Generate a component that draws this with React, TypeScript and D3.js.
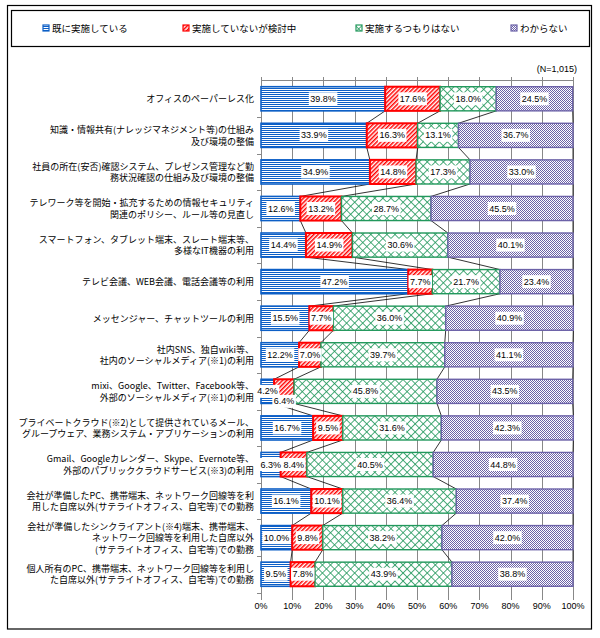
import React, { useEffect, useRef } from 'react';
import * as d3 from 'd3';

// category labels (line breaks as in the original)
const categories: string[][] = [
  ['オフィスのペーパーレス化'],
  ['知識・情報共有(ナレッジマネジメント等)の仕組み', '及び環境の整備'],
  ['社員の所在(安否)確認システム、プレゼンス管理など勤', '務状況確認の仕組み及び環境の整備'],
  ['テレワーク等を開始・拡充するための情報セキュリティ', '関連のポリシー、ルール等の見直し'],
  ['スマートフォン、タブレット端末、スレート端末等、', '多様なIT機器の利用'],
  ['テレビ会議、WEB会議、電話会議等の利用'],
  ['メッセンジャー、チャットツールの利用'],
  ['社内SNS、独自wiki等、', '社内のソーシャルメディア(※1)の利用'],
  ['mixi、Google、Twitter、Facebook等、', '外部のソーシャルメディア(※1)の利用'],
  ['プライベートクラウド(※2)として提供されているメール、', 'グループウェア、業務システム・アプリケーションの利用'],
  ['Gmail、Googleカレンダー、Skype、Evernote等、', '外部のパブリッククラウドサービス(※3)の利用'],
  ['会社が準備したPC、携帯端末、ネットワーク回線等を利', '用した自席以外(サテライトオフィス、自宅等)での勤務'],
  ['会社が準備したシンクライアント(※4)端末、携帯端末、', 'ネットワーク回線等を利用した自席以外', '(サテライトオフィス、自宅等)での勤務'],
  ['個人所有のPC、携帯端末、ネットワーク回線等を利用し', 'た自席以外(サテライトオフィス、自宅等)での勤務'],
];

const seriesNames = ['既に実施している', '実施していないが検討中', '実施するつもりはない', 'わからない'];

const implemented = [39.8, 33.9, 34.9, 12.6, 14.4, 47.2, 15.5, 12.2, 4.2, 16.7, 6.3, 16.1, 10.0, 9.5];
const considering = [17.6, 16.3, 14.8, 13.2, 14.9, 7.7, 7.7, 7.0, 6.4, 9.5, 8.4, 10.1, 9.8, 7.8];
const notPlanned = [18.0, 13.1, 17.3, 28.7, 30.6, 21.7, 36.0, 39.7, 45.8, 31.6, 40.5, 36.4, 38.2, 43.9];
const unknown = [24.5, 36.7, 33.0, 45.5, 40.1, 23.4, 40.9, 41.1, 43.5, 42.3, 44.8, 37.4, 42.0, 38.8];

const xTicks = [0, 10, 20, 30, 40, 50, 60, 70, 80, 90, 100];
const sampleNote = '(N=1,015)';

const W = 600;
const H = 638;
const JP = '"Noto Sans CJK JP", "Noto Sans", sans-serif';
const NUM = '"Liberation Sans", Arial, sans-serif';

const styles = [
  { fill: 'url(#p-blue)', stroke: '#0d5fc6', sw: 1.6 },
  { fill: 'url(#p-red)', stroke: '#ff0000', sw: 2 },
  { fill: 'url(#p-green)', stroke: '#22985c', sw: 1.4 },
  { fill: 'url(#p-purple)', stroke: '#6c62a8', sw: 1.4 },
];

const App: React.FC = () => {
  const svgRef = useRef<SVGSVGElement>(null);

  useEffect(() => {
    if (!svgRef.current) return;
    document.body.style.margin = '0';
    const svg = d3.select(svgRef.current);
    svg.selectAll('*').remove();

    // patterns
    const defs = svg.append('defs');
    const pb = defs.append('pattern').attr('id', 'p-blue').attr('patternUnits', 'userSpaceOnUse')
      .attr('width', 4).attr('height', 2);
    pb.append('rect').attr('width', 4).attr('height', 2).attr('fill', '#fff');
    pb.append('rect').attr('width', 4).attr('height', 1).attr('fill', '#0d5fc6');

    const pr = defs.append('pattern').attr('id', 'p-red').attr('patternUnits', 'userSpaceOnUse')
      .attr('width', 3).attr('height', 3).attr('patternTransform', 'rotate(45)');
    pr.append('rect').attr('width', 3).attr('height', 3).attr('fill', '#fff');
    pr.append('rect').attr('width', 1.5).attr('height', 3).attr('fill', '#ff0000');

    const pg = defs.append('pattern').attr('id', 'p-green').attr('patternUnits', 'userSpaceOnUse')
      .attr('width', 5.7).attr('height', 5.7).attr('patternTransform', 'rotate(45)');
    pg.append('rect').attr('width', 5.7).attr('height', 5.7).attr('fill', '#fff');
    pg.append('rect').attr('width', 5.7).attr('height', 0.8).attr('fill', '#22985c');
    pg.append('rect').attr('width', 0.8).attr('height', 5.7).attr('fill', '#22985c');

    const pp = defs.append('pattern').attr('id', 'p-purple').attr('patternUnits', 'userSpaceOnUse')
      .attr('width', 2).attr('height', 2);
    pp.append('rect').attr('width', 2).attr('height', 2).attr('fill', '#fff');
    pp.append('rect').attr('width', 1).attr('height', 1).attr('fill', '#6c62a8');
    pp.append('rect').attr('x', 1).attr('y', 1).attr('width', 1).attr('height', 1).attr('fill', '#6c62a8');

    // outer frame
    svg.append('rect').attr('x', 7.5).attr('y', 5.5).attr('width', 584).attr('height', 623.5)
      .attr('fill', '#fff').attr('stroke', '#000').attr('stroke-width', 1.2);

    // legend
    const legendX = [43, 183, 356, 511];
    svg.append('rect').attr('x', 11.5).attr('y', 10.5).attr('width', 578).attr('height', 36)
      .attr('fill', 'none').attr('stroke', '#000').attr('stroke-width', 1.2);
    seriesNames.forEach((name, i) => {
      svg.append('rect').attr('x', legendX[i]).attr('y', 25).attr('width', 6).attr('height', 6)
        .attr('fill', styles[i].fill).attr('stroke', styles[i].stroke).attr('stroke-width', 1.2);
      svg.append('text').attr('x', legendX[i] + 9).attr('y', 28).attr('dominant-baseline', 'central')
        .attr('font-family', JP).attr('font-size', 9.5).attr('fill', '#000').text(name);
    });

    // N note
    svg.append('text').attr('x', 577).attr('y', 69).attr('text-anchor', 'end')
      .attr('dominant-baseline', 'central').attr('font-family', NUM).attr('font-size', 9).text(sampleNote);

    const x = d3.scaleLinear().domain([0, 100]).range([261, 573]);
    const y = d3.scaleBand<number>().domain(d3.range(categories.length))
      .range([80.5, 592.5]).paddingInner(0.34).paddingOuter(0.17);
    const bw = y.bandwidth();

    const rows = categories.map((_, i) => ({
      i, s0: implemented[i], s1: considering[i], s2: notPlanned[i], s3: unknown[i],
    }));
    const stack = d3.stack<any>().keys(['s0', 's1', 's2', 's3'])(rows);

    // grid
    const grid = svg.append('g').attr('stroke', '#888').attr('stroke-width', 1);
    xTicks.forEach((t) => {
      const xx = Math.round(x(t)) + 0.5;
      grid.append('line').attr('x1', xx).attr('x2', xx).attr('y1', 77).attr('y2', 600);
    });
    grid.append('line').attr('x1', x(0)).attr('x2', x(100)).attr('y1', 80.5).attr('y2', 80.5);
    grid.append('line').attr('x1', 261.5).attr('x2', 261.5).attr('y1', 80).attr('y2', 600);
    for (let k = 1; k <= categories.length; k++) {
      const yy = Math.round(80.5 + k * y.step()) + 0.5;
      grid.append('line').attr('x1', 257).attr('x2', 261.5).attr('y1', yy).attr('y2', yy);
    }

    // x tick labels
    svg.append('g').selectAll('text').data(xTicks).join('text')
      .attr('x', (d) => x(d)).attr('y', 606).attr('text-anchor', 'middle')
      .attr('dominant-baseline', 'central').attr('font-family', NUM).attr('font-size', 9)
      .text((d) => `${d}%`);

    // category labels
    categories.forEach((lines, i) => {
      const cy = (y(i) as number) + bw / 2;
      const lh = 11.5;
      lines.forEach((ln, j) => {
        svg.append('text').attr('x', 254).attr('y', cy + (j - (lines.length - 1) / 2) * lh)
          .attr('text-anchor', 'end').attr('dominant-baseline', 'central')
          .attr('font-family', JP).attr('font-size', 9).attr('fill', '#000').text(ln);
      });
    });

    // connector lines between bars
    const conn = svg.append('g').attr('stroke', '#000').attr('stroke-width', 0.8);
    stack.forEach((layer) => {
      for (let i = 0; i < categories.length - 1; i++) {
        conn.append('line')
          .attr('x1', x(layer[i][1])).attr('y1', (y(i) as number) + bw)
          .attr('x2', x(layer[i + 1][1])).attr('y2', y(i + 1) as number);
      }
    });

    // bars
    stack.forEach((layer, si) => {
      svg.append('g').selectAll('rect').data(layer).join('rect')
        .attr('x', (d) => x(d[0])).attr('y', (_, i) => y(i) as number)
        .attr('width', (d) => x(d[1]) - x(d[0])).attr('height', bw)
        .attr('fill', styles[si].fill).attr('stroke', styles[si].stroke)
        .attr('stroke-width', styles[si].sw);
    });

    // value labels with white boxes; a label that would overlap its left neighbour drops down
    const labels = svg.append('g');
    categories.forEach((_, i) => {
      let prevRight = -Infinity;
      stack.forEach((layer) => {
        const d = layer[i];
        const v = d[1] - d[0];
        const cx = (x(d[0]) + x(d[1])) / 2;
        let cy = (y(i) as number) + bw / 2;
        const g = labels.append('g');
        const t = g.append('text').attr('x', cx).attr('text-anchor', 'middle')
          .attr('dominant-baseline', 'central').attr('font-family', NUM).attr('font-size', 9)
          .attr('fill', '#000').text(`${v.toFixed(1)}%`);
        const tw = (t.node() as SVGTextElement).getComputedTextLength();
        if (cx - tw / 2 < prevRight) cy += 10;
        t.attr('y', cy);
        g.insert('rect', 'text').attr('x', cx - tw / 2 - 1.5).attr('y', cy - 6.5)
          .attr('width', tw + 3).attr('height', 13).attr('fill', '#fff');
        prevRight = cx + tw / 2;
      });
    });
  }, []);

  return <svg ref={svgRef} width={W} height={H} style={{ display: 'block' }} />;
};

export default App;
